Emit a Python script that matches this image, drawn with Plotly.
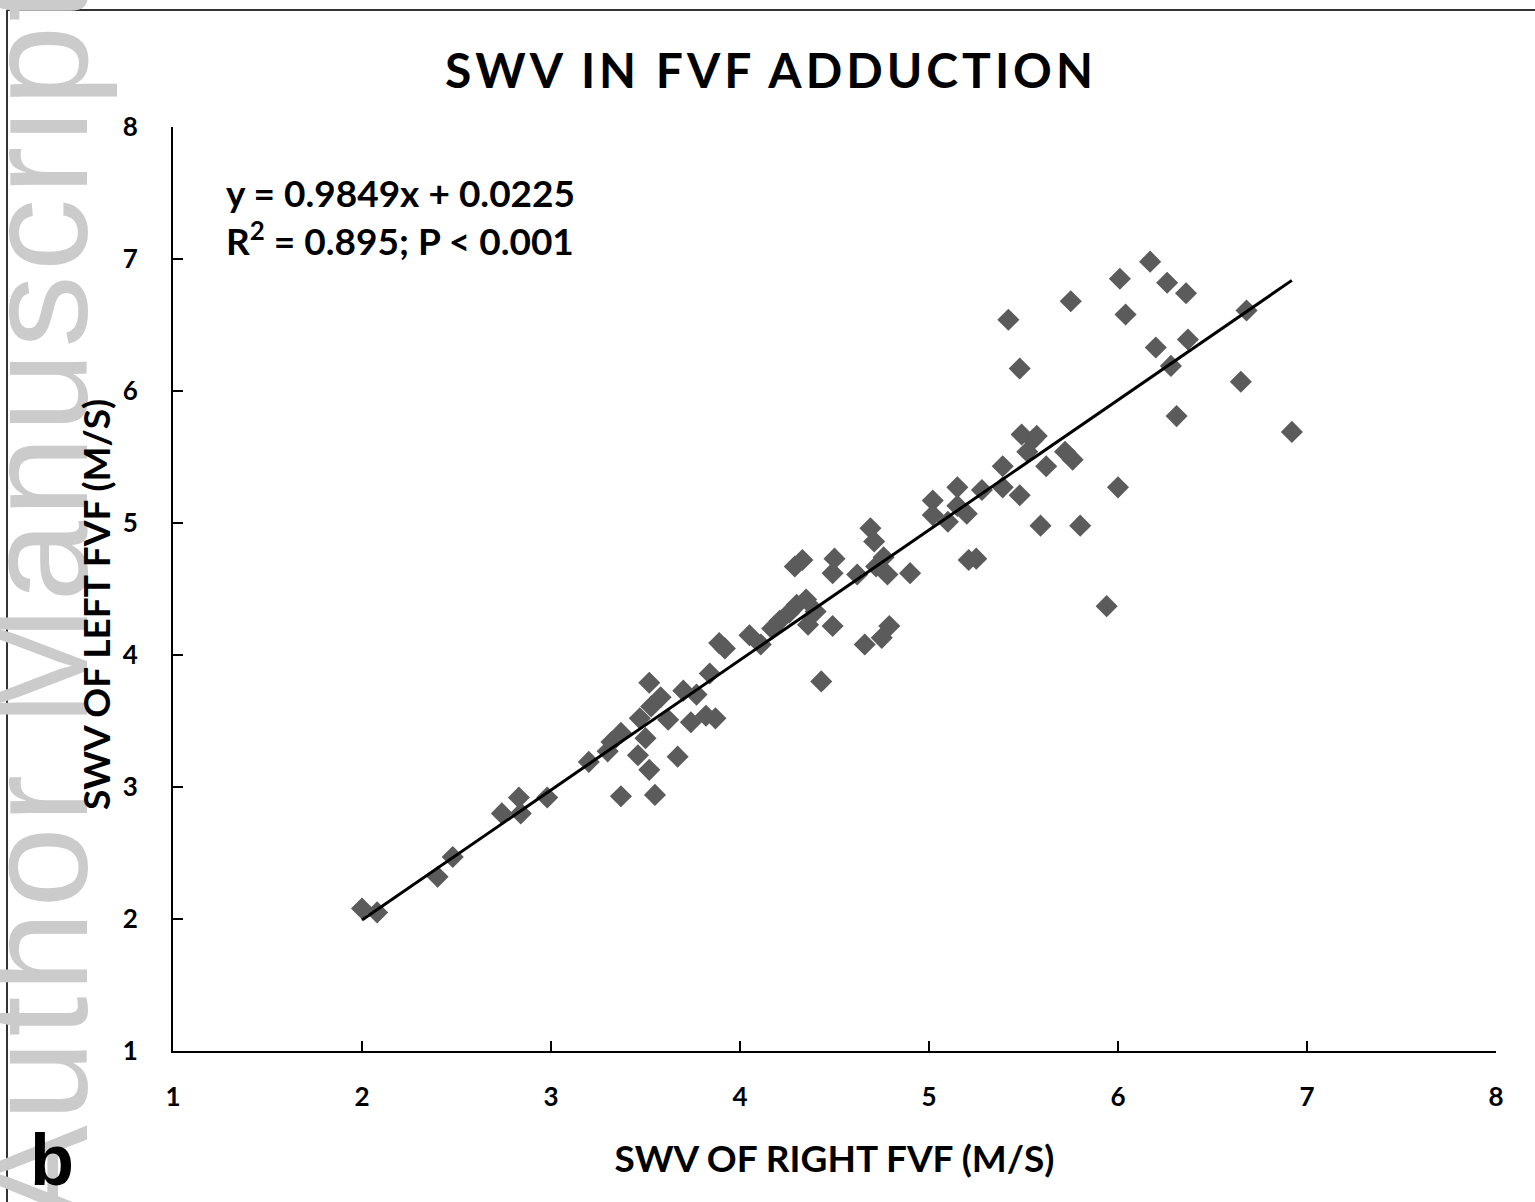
import plotly.graph_objects as go

# Data (SWV right vs left FVF, m/s)
right_fvf = [2.00, 2.08, 2.40, 2.48, 2.74, 2.83, 2.84, 2.98, 3.20, 3.30,
             3.32, 3.37, 3.37, 3.46, 3.47, 3.50, 3.52, 3.52, 3.55, 3.53,
             3.58, 3.62, 3.67, 3.70, 3.74, 3.77, 3.82, 3.84, 3.87, 3.89,
             3.92, 4.05, 4.11, 4.17, 4.21, 4.26, 4.29, 4.30, 4.33, 4.35,
             4.36, 4.40, 4.43, 4.49, 4.50, 4.49, 4.62, 4.66, 4.69, 4.71,
             4.72, 4.75, 4.76, 4.78, 4.79, 4.90, 5.02, 5.02, 5.10, 5.15,
             5.15, 5.20, 5.21, 5.25, 5.28, 5.39, 5.39, 5.42, 5.48, 5.48,
             5.49, 5.52, 5.55, 5.57, 5.59, 5.62, 5.72, 5.76, 5.75, 5.80,
             5.94, 6.00, 6.01, 6.04, 6.17, 6.20, 6.26, 6.28, 6.31, 6.36,
             6.37, 6.65, 6.68, 6.92]
left_fvf = [2.08, 2.05, 2.32, 2.47, 2.80, 2.92, 2.80, 2.92, 3.19, 3.27,
            3.34, 3.41, 2.93, 3.24, 3.52, 3.37, 3.79, 3.13, 2.94, 3.61,
            3.68, 3.51, 3.23, 3.73, 3.49, 3.70, 3.54, 3.86, 3.52, 4.09,
            4.05, 4.15, 4.08, 4.20, 4.26, 4.32, 4.67, 4.38, 4.72, 4.42,
            4.23, 4.33, 3.80, 4.22, 4.73, 4.62, 4.61, 4.08, 4.96, 4.86,
            4.67, 4.13, 4.74, 4.61, 4.22, 4.62, 5.17, 5.06, 5.01, 5.13,
            5.27, 5.07, 4.72, 4.73, 5.25, 5.43, 5.27, 6.54, 6.17, 5.21,
            5.67, 5.54, 5.63, 5.66, 4.98, 5.43, 5.54, 5.48, 6.68, 4.98,
            4.37, 5.27, 6.85, 6.58, 6.98, 6.33, 6.82, 6.19, 5.81, 6.74,
            6.39, 6.07, 6.61, 5.69]

slope = 0.9849
intercept = 0.0225
tick_vals = [1, 2, 3, 4, 5, 6, 7, 8]

FONT = "Lato"

fig = go.Figure()
fig.add_trace(go.Scatter(
    x=right_fvf, y=left_fvf, mode="markers",
    marker=dict(symbol="diamond", size=17, color="#5b5b5b",
                line=dict(width=0)),
    showlegend=False, hoverinfo="x+y"))

x_line = [min(right_fvf), max(right_fvf)]
y_line = [slope * v + intercept for v in x_line]
fig.add_trace(go.Scatter(
    x=x_line, y=y_line, mode="lines",
    line=dict(color="black", width=3), showlegend=False))

axis_common = dict(
    range=[1, 8], tickvals=tick_vals, ticktext=[str(v) for v in tick_vals],
    showgrid=False, zeroline=False, showline=True, linecolor="black",
    linewidth=2, ticks="inside", ticklen=10, tickwidth=2, tickcolor="black",
    tickfont=dict(family=FONT, size=26, color="black", weight="bold"),
    mirror=False, automargin=False)

W, H = 1323.0, 924.0
def px(x): return (x - 173) / W
def py(y): return (1051 - y) / H

fig.update_layout(
    width=1535, height=1202,
    margin=dict(l=173, r=39, t=127, b=151),
    paper_bgcolor="white", plot_bgcolor="white",
    title=dict(text="<b><span style='letter-spacing:4px'>SWV IN FVF ADDUCTION</span></b>",
               x=771 / 1535, xref="container", xanchor="center",
               y=1 - 71 / 1202, yref="container", yanchor="middle",
               font=dict(family=FONT, size=48, color="black")),
    xaxis=dict(**axis_common,
               title=dict(text="<b>SWV OF RIGHT FVF (M/S)</b>", standoff=35,
                          font=dict(family=FONT, size=37, color="black"))),
    yaxis=dict(**axis_common),
)
fig.update_xaxes(ticklabelstandoff=22)
fig.update_yaxes(ticklabelstandoff=28)

# Watermark (drawn first so other text lies over it)
fig.add_annotation(text="<span style='letter-spacing:4px'>Author Manuscript</span>",
                   textangle=-90,
                   xref="paper", yref="paper", x=px(37), y=py(600),
                   xanchor="center", yanchor="middle", showarrow=False,
                   font=dict(family="Liberation Sans", size=145, color="#cbcbcb"))

# Y axis title
fig.add_annotation(text="<b>SWV OF LEFT FVF (M/S)</b>", textangle=-90,
                   xref="paper", yref="paper", x=px(95), y=py(605),
                   xanchor="center", yanchor="middle", showarrow=False,
                   font=dict(family=FONT, size=37, color="black"))

# Equation
fig.add_annotation(text="<b>y = 0.9849x + 0.0225</b><br><b>R<sup>2</sup> = 0.895; P < 0.001</b>",
                   xref="paper", yref="paper", x=px(224), y=py(168),
                   xanchor="left", yanchor="top", align="left", showarrow=False,
                   font=dict(family=FONT, size=37, color="black"))

# Panel label
fig.add_annotation(text="<b>b</b>", xref="paper", yref="paper",
                   x=px(52), y=py(1160), xanchor="center", yanchor="middle",
                   showarrow=False,
                   font=dict(family="Liberation Sans", size=72, color="black"))

# Outer frame lines
fig.add_shape(type="line", xref="paper", yref="paper",
              x0=px(7), x1=px(1540), y0=py(10), y1=py(10),
              line=dict(color="#333333", width=2))
fig.add_shape(type="line", xref="paper", yref="paper",
              x0=px(7), x1=px(7), y0=py(10), y1=py(1210),
              line=dict(color="#333333", width=2))

fig.write_html("out.html", config={"displayModeBar": False},
               post_script="document.body.style.margin='0';")
